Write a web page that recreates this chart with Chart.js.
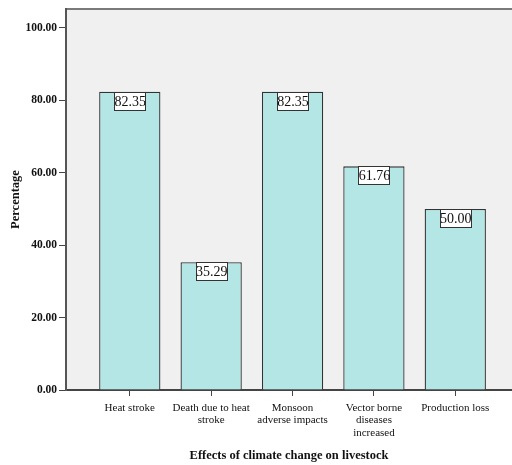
<!DOCTYPE html>
<html>
<head>
<meta charset="utf-8">
<script src="https://cdn.jsdelivr.net/npm/chart.js@4/dist/chart.umd.min.js"></script>
<style>
  html, body { margin: 0; padding: 0; background: #ffffff; }
  #wrap { width: 512px; height: 465px; }
</style>
</head>
<body>
<div id="wrap"><canvas id="c" width="512" height="465"></canvas></div>
<script>
// Effects of climate change on livestock (% of respondents)
const categories = [
  ['Heat stroke'],
  ['Death due to heat', 'stroke'],
  ['Monsoon', 'adverse impacts'],
  ['Vector borne', 'diseases', 'increased'],
  ['Production loss']
];
const percentages = [82.35, 35.29, 82.35, 61.76, 50.00];
const yTicks = [0, 20, 40, 60, 80, 100];

const SERIF = '"Liberation Serif", "Times New Roman", serif';

// Plot background and top frame line
const frame = {
  id: 'frame',
  beforeDraw(chart) {
    const { ctx, chartArea: a } = chart;
    ctx.save();
    ctx.fillStyle = '#f0f0f0';
    ctx.fillRect(a.left, a.top, a.right - a.left, a.bottom - a.top);
    ctx.strokeStyle = '#7a7a7a';
    ctx.lineWidth = 2;
    ctx.beginPath();
    ctx.moveTo(a.left, a.top);
    ctx.lineTo(a.right, a.top);
    ctx.stroke();
    ctx.restore();
  }
};

// Boxed value labels at the top of each bar
const valueBoxes = {
  id: 'valueBoxes',
  afterDatasetsDraw(chart) {
    const { ctx } = chart;
    const meta = chart.getDatasetMeta(0);
    const data = chart.data.datasets[0].data;
    ctx.save();
    ctx.font = '14px ' + SERIF;
    ctx.textAlign = 'center';
    ctx.textBaseline = 'middle';
    meta.data.forEach((bar, i) => {
      const txt = data[i].y.toFixed(2);
      const w = 31, h = 18;
      const x = Math.round(bar.x - w / 2) + 0.5;
      const y = Math.round(bar.y) + 0.5;
      ctx.fillStyle = '#ffffff';
      ctx.fillRect(x, y, w, h);
      ctx.strokeStyle = '#333333';
      ctx.lineWidth = 1;
      ctx.strokeRect(x, y, w, h);
      ctx.fillStyle = '#111111';
      ctx.fillText(txt, bar.x + 0.5, y + h / 2 + 1);
    });
    ctx.restore();
  }
};

new Chart(document.getElementById('c'), {
  type: 'bar',
  data: {
    datasets: [{
      data: percentages.map((v, i) => ({ x: i, y: v })),
      backgroundColor: '#b4e6e6',
      borderColor: '#333333',
      borderWidth: 1.3,
      barPercentage: 0.753,
      categoryPercentage: 1.0
    }]
  },
  options: {
    responsive: false,
    animation: false,
    layout: { padding: { top: 9, right: 0, left: 0, bottom: 0 } },
    plugins: { legend: { display: false }, tooltip: { enabled: false } },
    scales: {
      x: {
        type: 'linear',
        offset: false,
        min: -0.784,
        max: 4.697,
        afterBuildTicks(scale) { scale.ticks = categories.map((_, i) => ({ value: i })); },
        afterFit(scale) { scale.height = 75; },
        ticks: {
          autoSkip: false,
          maxRotation: 0,
          padding: 6,
          color: '#111111',
          font: { family: SERIF, size: 11, lineHeight: 1.12 },
          callback: (v) => categories[v]
        },
        grid: { offset: false, drawOnChartArea: false, drawTicks: true, tickLength: 6, tickColor: '#444444' },
        border: { color: '#444444', width: 2 },
        title: {
          display: true,
          text: 'Effects of climate change on livestock',
          color: '#111111',
          font: { family: SERIF, size: 12.5, weight: 'bold' },
          padding: { top: 0, bottom: 2 }
        }
      },
      y: {
        min: 0,
        max: 105.2,
        afterBuildTicks(scale) { scale.ticks = yTicks.map(v => ({ value: v })); },
        afterFit(scale) { scale.width = 66; },
        ticks: {
          padding: 2,
          color: '#111111',
          font: { family: SERIF, size: 11.5, weight: 'bold' },
          callback: (v) => Number(v).toFixed(2)
        },
        grid: { drawOnChartArea: false, drawTicks: true, tickLength: 7, tickColor: '#444444' },
        border: { color: '#555555', width: 2 },
        title: {
          display: true,
          text: 'Percentage',
          color: '#111111',
          font: { family: SERIF, size: 12.5, weight: 'bold' },
          padding: { top: 8, bottom: 0 }
        }
      }
    }
  },
  plugins: [frame, valueBoxes]
});
</script>
</body>
</html>
